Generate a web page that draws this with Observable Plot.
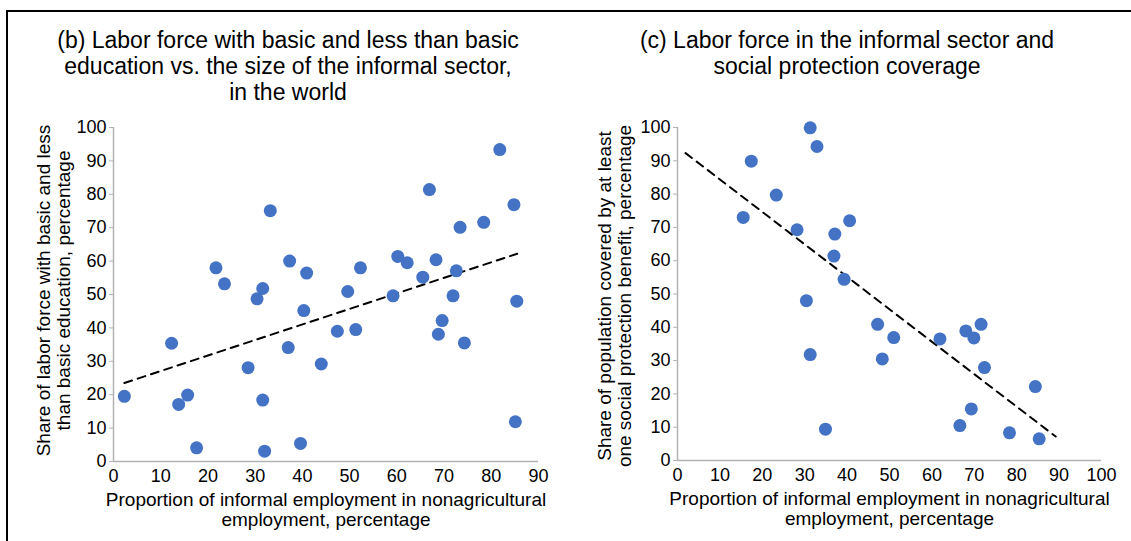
<!DOCTYPE html>
<html><head><meta charset="utf-8">
<script src="https://cdn.jsdelivr.net/npm/d3@7"></script>
<script src="https://cdn.jsdelivr.net/npm/@observablehq/plot@0.6"></script>
<style>
body{margin:0;background:#fff;font-family:"Liberation Sans",Arial,sans-serif;}
#wrap{position:relative;width:1131px;height:541px;overflow:hidden;background:#fff;}
.frameTop{position:absolute;left:6px;top:10px;width:1125px;height:2px;background:#000}
.frameLeft{position:absolute;left:6px;top:10px;width:2px;height:531px;background:#000}
.title{position:absolute;font-size:23px;line-height:26px;text-align:center;color:#000;white-space:pre-line}
.panel{position:absolute;top:0}
</style></head>
<body>
<div id="wrap">
  <div class="frameTop"></div><div class="frameLeft"></div>
  <div class="title" id="tb" style="left:18px;top:27px;width:540px;"></div>
  <div class="title" id="tc" style="left:597px;top:27px;width:500px;"></div>
  <div class="panel" id="pb" style="left:0px"></div>
  <div class="panel" id="pc" style="left:565px"></div>
</div>
<script>
// ---- Data ----
const titleB = "(b) Labor force with basic and less than basic\neducation vs. the size of the informal sector,\nin the world";
const titleC = "(c) Labor force in the informal sector and\nsocial protection coverage";
const xLabel = "Proportion of informal employment in nonagricultural\nemployment, percentage";
const yLabelB = "Share of labor force with basic and less\nthan basic education, percentage";
const yLabelC = "Share of population covered by at least\none social protection benefit, percentage";

// Panel (b): informal employment share vs. share with basic / less than basic education
const bX = [81.8, 66.9, 33.2, 84.8, 78.4, 73.4, 21.7, 23.5, 30.4, 31.6, 37.3, 40.9, 40.3, 49.6, 52.3, 59.2, 60.2, 62.2, 65.5, 68.3, 72.6, 71.9, 85.4, 69.6, 68.8, 74.3, 47.4, 51.3, 37.0, 12.3, 44.0, 28.5, 2.3, 13.8, 15.7, 31.6, 17.6, 32.0, 39.6, 85.1];
const bY = [93.4, 81.4, 75.1, 76.9, 71.6, 70.1, 58.0, 53.2, 48.7, 51.8, 60.0, 56.4, 45.2, 50.9, 58.0, 49.6, 61.4, 59.5, 55.2, 60.4, 57.1, 49.6, 48.0, 42.2, 38.1, 35.5, 39.0, 39.5, 34.1, 35.4, 29.2, 28.1, 19.5, 17.1, 19.9, 18.4, 4.1, 3.1, 5.4, 11.9];
const bTrendX = [2.3, 85.5];
const bTrendY = [23.5, 62.2];
const bXTicks = [0, 10, 20, 30, 40, 50, 60, 70, 80, 90];

// Panel (c): informal employment share vs. social protection coverage
const cX = [31.3, 32.9, 17.4, 23.3, 15.5, 28.2, 37.1, 40.6, 36.9, 39.3, 30.4, 47.2, 51.0, 61.9, 68.0, 69.9, 71.6, 31.3, 48.3, 72.4, 84.4, 69.3, 66.6, 34.9, 78.3, 85.3];
const cY = [99.9, 94.3, 89.9, 79.7, 73.0, 69.3, 68.0, 72.0, 61.4, 54.4, 48.0, 40.9, 36.9, 36.5, 38.9, 36.8, 40.9, 31.8, 30.5, 27.9, 22.2, 15.5, 10.5, 9.4, 8.3, 6.5];
const cTrendX = [1.9, 89.2];
const cTrendY = [92.3, 7.2];
const cXTicks = [0, 10, 20, 30, 40, 50, 60, 70, 80, 90, 100];

const yTicks = [0, 10, 20, 30, 40, 50, 60, 70, 80, 90, 100];

// ---- Styles ----
const dotColor = "#4472C4";
const axisColor = "#b3b3b3";
const FONT = "Liberation Sans, Arial, sans-serif";

document.getElementById("tb").textContent = titleB;
document.getElementById("tc").textContent = titleC;

function panel({xs, ys, tx, ty, xDomain, xTicks, yLabel, width, mLeft, mRight, mTop, mBottom, yDx, yDy}) {
  const pts = xs.map((x, i) => ({x, y: ys[i]}));
  const trend = tx.map((x, i) => ({x, y: ty[i]}));
  return Plot.plot({
    width, height: 541,
    marginLeft: mLeft, marginRight: mRight, marginTop: mTop, marginBottom: mBottom,
    style: {fontFamily: FONT, fontSize: "18px", color: "#000", background: "transparent", overflow: "visible"},
    x: {domain: xDomain, label: null},
    y: {domain: [0, 100], label: null},
    marks: [
      Plot.ruleX([0], {stroke: axisColor, strokeWidth: 1.5}),
      Plot.ruleY([0], {stroke: axisColor, strokeWidth: 1.5}),
      Plot.axisY(yTicks, {tickSize: 4, tickPadding: 3, stroke: axisColor, fill: "#000", fontSize: 18, label: null}),
      Plot.axisX(xTicks, {tickSize: 0, tickPadding: 8, fill: "#000", fontSize: 18, label: null}),
      Plot.line(trend, {x: "x", y: "y", stroke: "#000", strokeWidth: 2, strokeDasharray: "8,6"}),
      Plot.dot(pts, {x: "x", y: "y", r: 6.5, fill: dotColor, stroke: "none"}),
      Plot.text([xLabel], {frameAnchor: "bottom", lineAnchor: "top", dy: 30, fontSize: 19, lineHeight: 1.05, fill: "#000"}),
      Plot.text([yLabel], {frameAnchor: "left", textAnchor: "middle", rotate: -90, lineAnchor: "middle", dx: yDx, dy: yDy, fontSize: 19, lineHeight: 1.05, fill: "#000"})
    ]
  });
}

document.getElementById("pb").appendChild(panel({
  xs: bX, ys: bY, tx: bTrendX, ty: bTrendY, xDomain: [0, 90], xTicks: bXTicks, yLabel: yLabelB,
  width: 565, mLeft: 113, mRight: 27, mTop: 127, mBottom: 80, yDx: -60, yDy: -4
}));
document.getElementById("pc").appendChild(panel({
  xs: cX, ys: cY, tx: cTrendX, ty: cTrendY, xDomain: [0, 100], xTicks: cXTicks, yLabel: yLabelC,
  width: 566, mLeft: 112, mRight: 30, mTop: 127, mBottom: 81, yDx: -63, yDy: 2
}));
</script>
</body></html>
